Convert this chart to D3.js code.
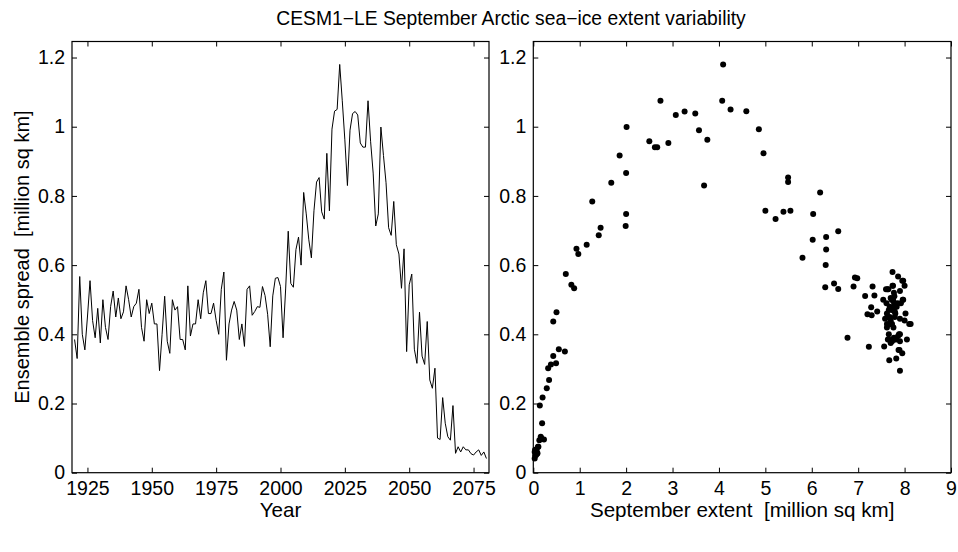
<!DOCTYPE html>
<html>
<head>
<meta charset="utf-8">
<script src="https://cdn.jsdelivr.net/npm/d3@7"></script>
<style>
  html, body { margin: 0; padding: 0; background: #fff; }
  svg { display: block; font-family: "Liberation Sans", Arial, Helvetica, sans-serif; }
  text { white-space: pre; }
</style>
</head>
<body>
<svg id="chart" width="958" height="552"></svg>
<script>
// ---------------- data ----------------
const firstYear = 1920;
// Ensemble spread [million sq km], one value per year 1920..2080
const spread = [
  0.385, 0.330, 0.567, 0.400, 0.355, 0.450, 0.555, 0.440, 0.390, 0.475, // 1920s
  0.375, 0.500, 0.420, 0.385, 0.480, 0.525, 0.450, 0.505, 0.445, 0.465, // 1930s
  0.540, 0.500, 0.450, 0.480, 0.490, 0.530, 0.420, 0.380, 0.500, 0.460, // 1940s
  0.490, 0.430, 0.430, 0.295, 0.400, 0.510, 0.380, 0.345, 0.500, 0.470, // 1950s
  0.480, 0.385, 0.385, 0.355, 0.540, 0.395, 0.430, 0.430, 0.500, 0.445, // 1960s
  0.520, 0.555, 0.460, 0.460, 0.490, 0.440, 0.400, 0.530, 0.580, 0.325, // 1970s
  0.430, 0.470, 0.495, 0.470, 0.385, 0.430, 0.365, 0.530, 0.540, 0.455, // 1980s
  0.466, 0.480, 0.478, 0.538, 0.512, 0.458, 0.364, 0.511, 0.562, 0.564, // 1990s
  0.538, 0.390, 0.531, 0.698, 0.547, 0.536, 0.645, 0.681, 0.600, 0.810, // 2000s
  0.748, 0.673, 0.621, 0.757, 0.840, 0.853, 0.754, 0.733, 0.923, 0.757, // 2010s
  0.993, 1.045, 1.050, 1.180, 1.075, 0.962, 0.830, 0.990, 1.038, 1.044, // 2020s
  1.034, 0.953, 0.941, 0.941, 1.075, 0.958, 0.866, 0.713, 0.748, 0.999, // 2030s
  0.917, 0.838, 0.708, 0.686, 0.784, 0.659, 0.632, 0.533, 0.647, 0.350, // 2040s
  0.543, 0.574, 0.357, 0.316, 0.464, 0.337, 0.313, 0.437, 0.268, 0.244, // 2050s
  0.302, 0.100, 0.096, 0.217, 0.143, 0.104, 0.094, 0.194, 0.056, 0.075, // 2060s
  0.060, 0.075, 0.066, 0.066, 0.055, 0.051, 0.060, 0.066, 0.050, 0.060, // 2070s
  0.041                                                                  // 2080
];
// Ensemble-mean September extent [million sq km], same years
const extent = [
  7.66, 7.82, 7.86, 7.90, 7.87, 7.79, 7.95, 8.00, 7.77, 7.72, // 1920s
  7.70, 7.97, 7.62, 8.05, 7.83, 7.90, 7.68, 7.70, 7.90, 7.79, // 1930s
  8.00, 7.75, 7.63, 7.80, 7.92, 7.60, 7.76, 7.90, 7.54, 8.02, // 1940s
  7.85, 8.10, 8.13, 7.90, 7.88, 7.78, 7.73, 7.95, 7.96, 7.74, // 1950s
  7.68, 7.78, 7.82, 7.89, 7.74, 7.86, 7.71, 7.67, 7.72, 7.58, // 1960s
  7.77, 7.97, 7.62, 7.80, 7.61, 7.70, 7.66, 7.65, 7.74, 7.67, // 1970s
  7.73, 7.74, 7.76, 7.66, 7.64, 7.62, 7.56, 7.63, 7.75, 7.29, // 1980s
  7.41, 7.76, 7.28, 7.31, 7.35, 7.20, 7.23, 7.15, 6.98, 6.93, // 1990s
  6.90, 6.77, 6.57, 6.57, 6.48, 6.29, 6.31, 6.31, 6.30, 6.18, // 2000s
  6.03, 6.02, 5.80, 5.54, 5.49, 5.49, 5.39, 5.22, 4.96, 5.00, // 2010s
  4.86, 4.59, 4.25, 4.09, 4.07, 3.75, 3.68, 3.57, 3.49, 3.26, // 2020s
  3.07, 2.91, 2.62, 2.67, 2.74, 2.50, 2.00, 1.99, 2.00, 2.01, // 2030s
  1.86, 1.68, 1.45, 1.41, 1.27, 1.15, 0.97, 0.88, 0.93, 0.68, // 2040s
  0.82, 0.70, 0.55, 0.49, 0.50, 0.43, 0.38, 0.43, 0.34, 0.29, // 2050s
  0.32, 0.17, 0.23, 0.20, 0.19, 0.16, 0.13, 0.14, 0.09, 0.10, // 2060s
  0.07, 0.11, 0.05, 0.07, 0.08, 0.06, 0.05, 0.04, 0.04, 0.03, // 2070s
  0.03                                                        // 2080
];
const years = d3.range(firstYear, firstYear + spread.length);

const yearTicks = [1925, 1950, 1975, 2000, 2025, 2050, 2075];
const spreadTicks = [0, 0.2, 0.4, 0.6, 0.8, 1.0, 1.2];
const extentTicks = [0, 1, 2, 3, 4, 5, 6, 7, 8, 9];

const titleText = "CESM1\u2212LE September Arctic sea\u2212ice extent variability";
const leftYLabel = "Ensemble spread  [million sq km]";
const leftXLabel = "Year";
const rightXLabel = "September extent  [million sq km]";

// ---------------- layout ----------------
const svg = d3.select("#chart");
const plotTop = 41.5, plotBottom = 472.7;
const L = { x0: 72, x1: 489 };
const R = { x0: 533.3, x1: 951 };
const tickFont = 19.5, labelFont = 20.6, titleFont = 19.3;

const y = d3.scaleLinear().domain([0, 1.2463]).range([plotBottom, plotTop]);
const xL = d3.scaleLinear().domain([1919, 2081]).range([L.x0, L.x1]);
const xR = d3.scaleLinear().domain([0, 9]).range([R.x0, R.x1]);

const fmt = d => d3.format("~g")(d);

function styleAxis(g, showLabels) {
  g.select(".domain").remove();
  g.selectAll(".tick line").attr("stroke", "#000").attr("stroke-width", 1);
  g.selectAll(".tick text")
    .attr("fill", "#000")
    .style("font-size", tickFont + "px")
    .style("font-family", '"Liberation Sans", Arial, Helvetica, sans-serif');
  if (!showLabels) g.selectAll(".tick text").remove();
}

function panel(x, P, xTicks) {
  const g = svg.append("g");
  g.append("g").attr("transform", `translate(0,${plotBottom})`)
    .call(d3.axisBottom(x).tickValues(xTicks).tickFormat(fmt).tickSize(-5).tickPadding(8))
    .call(a => styleAxis(a, true));
  g.append("g").attr("transform", `translate(0,${plotTop})`)
    .call(d3.axisTop(x).tickValues(xTicks).tickSize(-5))
    .call(a => styleAxis(a, false));
  g.append("g").attr("transform", `translate(${P.x0},0)`)
    .call(d3.axisLeft(y).tickValues(spreadTicks).tickFormat(fmt).tickSize(-5).tickPadding(7))
    .call(a => styleAxis(a, true));
  g.append("g").attr("transform", `translate(${P.x1},0)`)
    .call(d3.axisRight(y).tickValues(spreadTicks).tickSize(-5))
    .call(a => styleAxis(a, false));
  g.append("rect")
    .attr("x", P.x0).attr("y", plotTop)
    .attr("width", P.x1 - P.x0).attr("height", plotBottom - plotTop)
    .attr("fill", "none").attr("stroke", "#000").attr("stroke-width", 1.2);
  return g;
}

// Left panel: time series
const gL = panel(xL, L, yearTicks);
const line = d3.line().x((d, i) => xL(years[i])).y(d => y(d));
gL.append("path")
  .datum(spread)
  .attr("d", line)
  .attr("fill", "none")
  .attr("stroke", "#000")
  .attr("stroke-width", 1)
  .attr("stroke-linejoin", "miter");

// Right panel: scatter
const gR = panel(xR, R, extentTicks);
gR.append("g").selectAll("circle")
  .data(spread)
  .join("circle")
  .attr("cx", (d, i) => xR(extent[i]))
  .attr("cy", d => y(d))
  .attr("r", 3)
  .attr("fill", "#000");

// Texts
svg.append("text")
  .attr("x", 511).attr("y", 25)
  .attr("text-anchor", "middle")
  .style("font-size", titleFont + "px")
  .attr("fill", "#000")
  .text(titleText);

svg.append("text")
  .attr("transform", `translate(28.5,${(plotTop + plotBottom) / 2}) rotate(-90)`)
  .attr("text-anchor", "middle")
  .style("font-size", "20px")
  .attr("fill", "#000")
  .text(leftYLabel);

svg.append("text")
  .attr("x", (L.x0 + L.x1) / 2).attr("y", 517)
  .attr("text-anchor", "middle")
  .style("font-size", labelFont + "px")
  .attr("fill", "#000")
  .text(leftXLabel);

svg.append("text")
  .attr("x", (R.x0 + R.x1) / 2).attr("y", 517)
  .attr("text-anchor", "middle")
  .style("font-size", labelFont + "px")
  .attr("fill", "#000")
  .text(rightXLabel);
</script>
</body>
</html>
